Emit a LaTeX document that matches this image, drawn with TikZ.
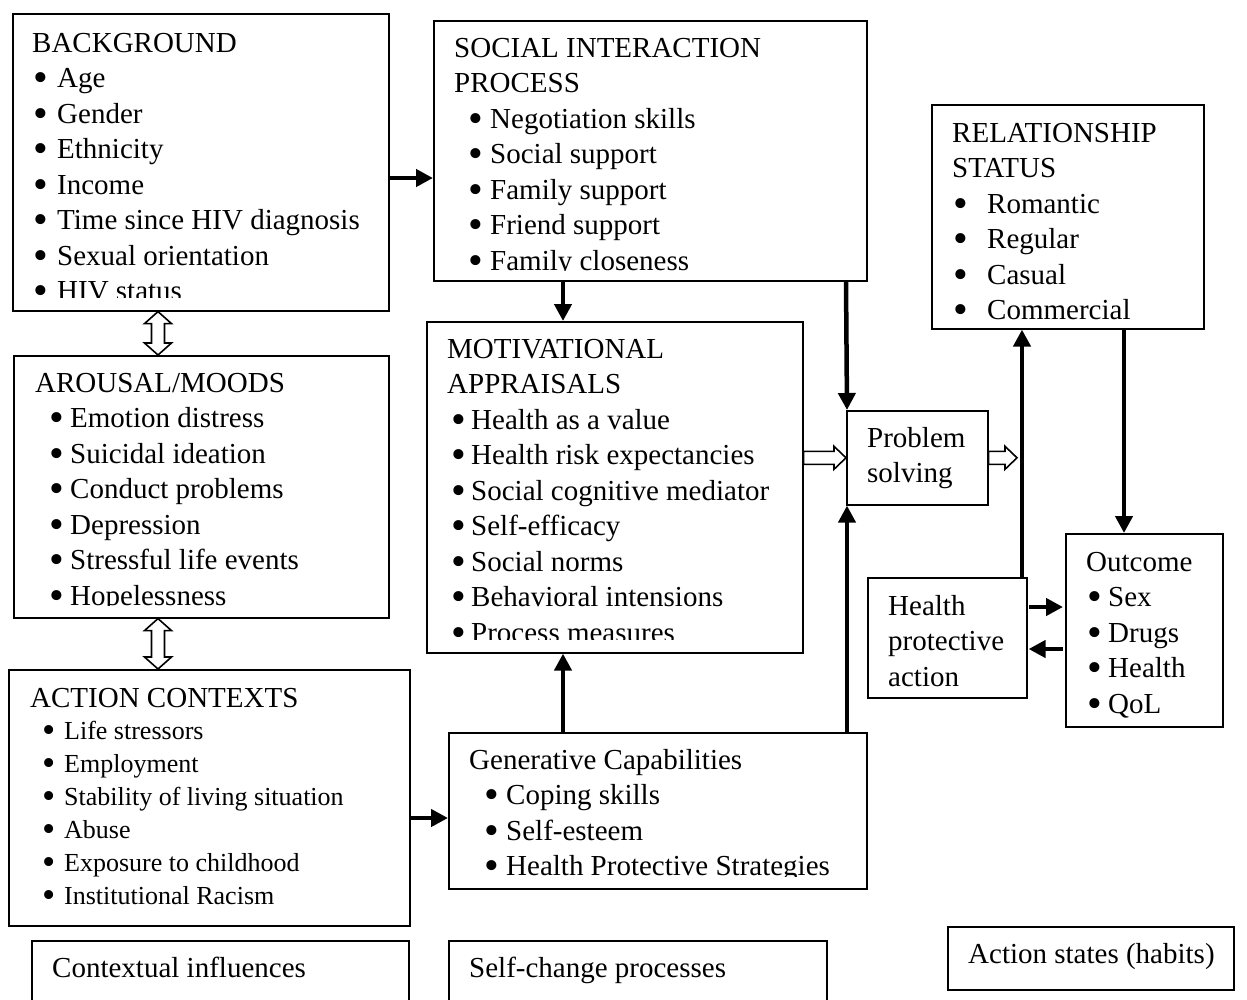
\documentclass[tikz,border=0pt]{standalone}
\usepackage{fontspec}
\setmainfont{Liberation Serif}
\usetikzlibrary{arrows.meta,calc}
\newcommand\bl[2]{\makebox[#1][l]{\smash{\raisebox{-0.15em}{\scalebox{1.45}{\textbullet}}}}#2}
\tikzset{
  box/.style={draw, line width=1.6pt, anchor=north west, inner sep=0pt},
  txt/.style={anchor=base west, inner sep=0pt, font=\fontsize{29}{35.5}\selectfont},
  smalltxt/.style={anchor=base west, inner sep=0pt, font=\fontsize{26}{33}\selectfont},
  thickarrow/.style={line width=4.5pt, -{Triangle[length=17pt,width=17pt]}},
  hollow/.style={draw, line width=1.6pt, fill=white, line join=miter},
}
\newcommand\hollowR[2]{%
  \draw[hollow] let \p1=(#1), \p2=(#2) in
    (\x1,\y1+6.5pt) -- (\x2-12pt,\y1+6.5pt) -- (\x2-12pt,\y1+11.5pt) -- (\x2,\y1)
    -- (\x2-12pt,\y1-11.5pt) -- (\x2-12pt,\y1-6.5pt) -- (\x1,\y1-6.5pt) -- cycle;}
\newcommand\hollowUD[2]{%
  \draw[hollow] let \p1=(#1), \p2=(#2) in
    (\x1,\y1) -- (\x1+13.5pt,\y1-12pt) -- (\x1+6.5pt,\y1-12pt) -- (\x1+6.5pt,\y2+12pt)
    -- (\x1+13.5pt,\y2+12pt) -- (\x1,\y2) -- (\x1-13.5pt,\y2+12pt) -- (\x1-6.5pt,\y2+12pt)
    -- (\x1-6.5pt,\y1-12pt) -- (\x1-13.5pt,\y1-12pt) -- cycle;}
\begin{document}
\begin{tikzpicture}[x=1pt,y=-1pt]
\clip (0,0) rectangle (1247,999);
\fill[white] (0,0) rectangle (1247,999);

% ---------- boxes ----------
\node[box, minimum width=376pt, minimum height=297pt] (bg)  at (12,13) {};
\node[box, minimum width=433pt, minimum height=260pt] (soc) at (433,20) {};
\node[box, minimum width=272pt, minimum height=224pt] (rel) at (931,104) {};
\node[box, minimum width=375pt, minimum height=262pt] (aro) at (13,355) {};
\node[box, minimum width=376pt, minimum height=331pt] (mot) at (426,321) {};
\node[box, minimum width=141pt, minimum height=94pt]  (ps)  at (846,410) {};
\node[box, minimum width=159pt, minimum height=120pt] (hpa) at (867,577) {};
\node[box, minimum width=157pt, minimum height=193pt] (out) at (1065,533) {};
\node[box, minimum width=401pt, minimum height=256pt] (act) at (8,669) {};
\node[box, minimum width=418pt, minimum height=156pt] (gen) at (448,732) {};
\node[box, minimum width=377pt, minimum height=80pt]  (ci)  at (31,940) {};
\node[box, minimum width=378pt, minimum height=80pt]  (sc)  at (448,940) {};
\node[box, minimum width=286pt, minimum height=63pt]  (as)  at (947,926) {};

% ---------- texts ----------
\begin{scope}
\clip (12,13) rectangle (388,297);
\node[txt] (bgT) at (32,52) {\begin{tabular}[t]{@{}l@{}}BACKGROUND\\
\hspace*{1pt}\bl{24pt}{Age}\\
\hspace*{1pt}\bl{24pt}{Gender}\\
\hspace*{1pt}\bl{24pt}{Ethnicity}\\
\hspace*{1pt}\bl{24pt}{Income}\\
\hspace*{1pt}\bl{24pt}{Time since HIV diagnosis}\\
\hspace*{1pt}\bl{24pt}{Sexual orientation}\\
\hspace*{1pt}\bl{24pt}{HIV status}\end{tabular}};
\end{scope}

\begin{scope}
\clip (433,20) rectangle (866,270);
\node[txt] (socT) at (454,57) {\begin{tabular}[t]{@{}l@{}}SOCIAL INTERACTION\\
PROCESS\\
\hspace*{14pt}\bl{22pt}{Negotiation skills}\\
\hspace*{14pt}\bl{22pt}{Social support}\\
\hspace*{14pt}\bl{22pt}{Family support}\\
\hspace*{14pt}\bl{22pt}{Friend support}\\
\hspace*{14pt}\bl{22pt}{Family closeness}\end{tabular}};
\end{scope}

\node[txt] (relT) at (952,142) {\begin{tabular}[t]{@{}l@{}}RELATIONSHIP\\
STATUS\\
\hspace*{1pt}\bl{34pt}{Romantic}\\
\hspace*{1pt}\bl{34pt}{Regular}\\
\hspace*{1pt}\bl{34pt}{Casual}\\
\hspace*{1pt}\bl{34pt}{Commercial}\end{tabular}};

\begin{scope}
\clip (13,355) rectangle (388,605);
\node[txt] (aroT) at (35,392) {\begin{tabular}[t]{@{}l@{}}AROUSAL/MOODS\\
\hspace*{14pt}\bl{21pt}{Emotion distress}\\
\hspace*{14pt}\bl{21pt}{Suicidal ideation}\\
\hspace*{14pt}\bl{21pt}{Conduct problems}\\
\hspace*{14pt}\bl{21pt}{Depression}\\
\hspace*{14pt}\bl{21pt}{Stressful life events}\\
\hspace*{14pt}\bl{21pt}{Hopelessness}\end{tabular}};
\end{scope}

\begin{scope}
\clip (426,321) rectangle (802,639);
\node[txt] (motT) at (447,358) {\begin{tabular}[t]{@{}l@{}}MOTIVATIONAL\\
APPRAISALS\\
\hspace*{4pt}\bl{20pt}{Health as a value}\\
\hspace*{4pt}\bl{20pt}{Health risk expectancies}\\
\hspace*{4pt}\bl{20pt}{Social cognitive mediator}\\
\hspace*{4pt}\bl{20pt}{Self-efficacy}\\
\hspace*{4pt}\bl{20pt}{Social norms}\\
\hspace*{4pt}\bl{20pt}{Behavioral intensions}\\
\hspace*{4pt}\bl{20pt}{Process measures}\end{tabular}};
\end{scope}

\node[txt] (psT) at (867,447) {\begin{tabular}[t]{@{}l@{}}Problem\\ solving\end{tabular}};
\node[txt] (hpaT) at (888,615) {\begin{tabular}[t]{@{}l@{}}Health\\ protective\\ action\end{tabular}};
\node[txt] (outT) at (1086,571) {\begin{tabular}[t]{@{}l@{}}Outcome\\
\hspace*{1pt}\bl{21pt}{Sex}\\
\hspace*{1pt}\bl{21pt}{Drugs}\\
\hspace*{1pt}\bl{21pt}{Health}\\
\hspace*{1pt}\bl{21pt}{QoL}\end{tabular}};

\node[txt] (actT) at (30,707) {ACTION CONTEXTS};
\node[smalltxt] (actL) at (42,739) {\begin{tabular}[t]{@{}l@{}}%
\bl{22pt}{Life stressors}\\
\bl{22pt}{Employment}\\
\bl{22pt}{Stability of living situation}\\
\bl{22pt}{Abuse}\\
\bl{22pt}{Exposure to childhood}\\
\bl{22pt}{Institutional Racism}\end{tabular}};

\begin{scope}
\clip (448,732) rectangle (866,876);
\node[txt] (genT) at (469,769) {\begin{tabular}[t]{@{}l@{}}Generative Capabilities\\
\hspace*{15pt}\bl{22pt}{Coping skills}\\
\hspace*{15pt}\bl{22pt}{Self-esteem}\\
\hspace*{15pt}\bl{22pt}{Health Protective Strategies}\end{tabular}};
\end{scope}

\node[txt] (ciT) at (52,977) {Contextual influences};
\node[txt] (scT) at (469,977) {Self-change processes};
\node[txt] (asT) at (968,963) {Action states (habits)};

% ---------- helper coordinates ----------
\coordinate (y1) at (0,178);
\coordinate (y2) at (0,818);
\coordinate (y3) at (0,607);
\coordinate (y4) at (0,649);
\coordinate (xm) at (563,0);
\coordinate (xd) at (158,0);
\coordinate (xh) at (1022,0);
\coordinate (xr) at (1124,0);
\coordinate (ha) at (1029,0);
\coordinate (hb) at (1063,0);

% ---------- thick arrows ----------
\draw[thickarrow] (bg.east |- y1) -- (soc.west |- y1);
\draw[thickarrow] (act.east |- y2) -- (gen.west |- y2);
\draw[thickarrow] (xm |- soc.south) -- (xm |- mot.north);
\draw[thickarrow] (xm |- gen.north) -- (xm |- mot.south);
\draw[thickarrow] (ps.north west |- soc.south) -- ([xshift=1pt]ps.north west);
\draw[thickarrow] ([xshift=1pt]ps.south west |- gen.north) -- ([xshift=1pt]ps.south west);
\draw[thickarrow] (xh |- hpa.north) -- (xh |- rel.south);
\draw[thickarrow] (xr |- rel.south) -- (xr |- out.north);
\draw[thickarrow] (ha |- y3) -- (hb |- y3);
\draw[thickarrow] (hb |- y4) -- ([xshift=1pt]hpa.east |- y4);

% ---------- hollow arrows ----------
\hollowR{mot.east |- ps.west}{ps.west}
\hollowR{ps.east}{1017,456}
\hollowUD{xd |- bg.south}{xd |- aro.north}
\hollowUD{xd |- aro.south}{xd |- act.north}
\end{tikzpicture}
\end{document}
